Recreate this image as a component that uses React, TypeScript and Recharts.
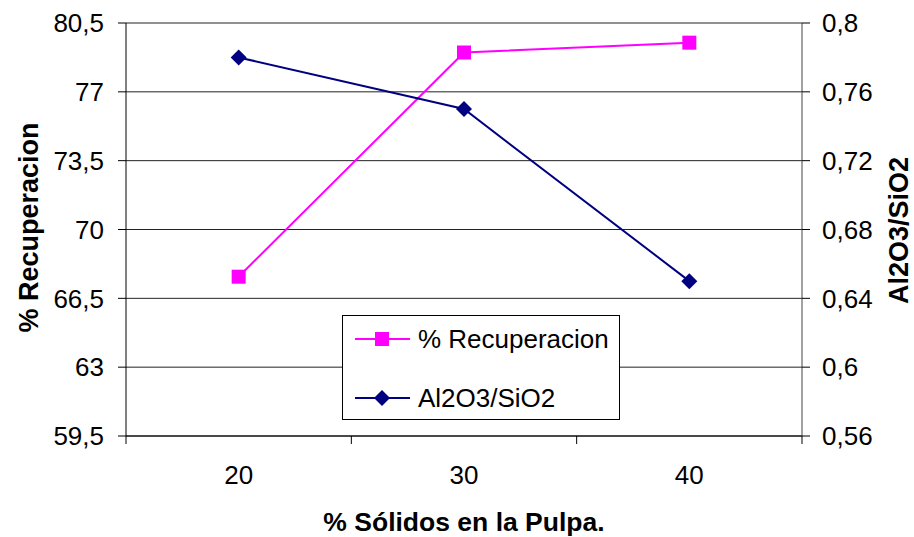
import React from 'react';
import { LineChart, Line, XAxis, YAxis, CartesianGrid, Legend } from 'recharts';

// % sólidos en la pulpa
const solids = [20, 30, 40];
const recuperacion = [67.6, 79.0, 79.5];
const alSiRatio = [0.78, 0.75, 0.65];

const leftTicks = [59.5, 63, 66.5, 70, 73.5, 77, 80.5];
const rightTicks = [0.56, 0.6, 0.64, 0.68, 0.72, 0.76, 0.8];
const solidsStep = 10;

const FONT = '"Liberation Sans", Arial, sans-serif';
const MAGENTA = '#FF00FF';
const NAVY = '#000080';

const seriesMeta = [
  { key: 'rec', name: '% Recuperacion', color: MAGENTA, shape: 'square' },
  { key: 'ratio', name: 'Al2O3/SiO2', color: NAVY, shape: 'diamond' },
];

const data = solids.map((s, i) => ({ x: s, rec: recuperacion[i], ratio: alSiRatio[i] }));

// category boundaries, where the axis tick marks sit
const boundaries = [...solids.map(s => s - solidsStep / 2), solids[solids.length - 1] + solidsStep / 2];
const xTicks = [...boundaries, ...solids].sort((a, b) => a - b);

const comma = (v: number) => String(v).replace('.', ',');

function Marker({ cx, cy, shape, color }: { cx: number; cy: number; shape: string; color: string }) {
  if (shape === 'square') {
    return <rect x={cx - 7} y={cy - 7} width={14} height={14} fill={color} />;
  }
  return <polygon points={`${cx},${cy - 8} ${cx + 8},${cy} ${cx},${cy + 8} ${cx - 8},${cy}`} fill={color} />;
}

function XTick(props: any) {
  const { x, y, payload } = props;
  if (solids.includes(payload.value)) {
    return (
      <text x={x} y={y + 40} textAnchor="middle" fontSize={26} fill="#000" fontFamily={FONT}>
        {payload.value}
      </text>
    );
  }
  return <line x1={x} x2={x} y1={y - 8} y2={y} stroke="#000" strokeWidth={1} />;
}

function LegendBox() {
  return (
    <div
      style={{
        width: 278,
        height: 105,
        boxSizing: 'border-box',
        border: '1px solid #000',
        background: '#fff',
        position: 'relative',
        fontFamily: FONT,
      }}
    >
      {seriesMeta.map((s, i) => (
        <div key={s.key} style={{ position: 'absolute', left: 0, top: i === 0 ? 6 : 65, height: 34, width: '100%' }}>
          <svg width={70} height={34} style={{ position: 'absolute', left: 10, top: 0 }}>
            <line x1={2} x2={57} y1={17} y2={17} stroke={s.color} strokeWidth={2} />
            <Marker cx={29} cy={17} shape={s.shape} color={s.color} />
          </svg>
          <span style={{ position: 'absolute', left: 75, top: 1, fontSize: 26, lineHeight: '32px', color: '#000', whiteSpace: 'nowrap' }}>
            {s.name}
          </span>
        </div>
      ))}
    </div>
  );
}

export default function App() {
  return (
    <div style={{ position: 'absolute', left: 0, top: 0, width: 914, height: 537, background: '#fff' }}>
      <LineChart width={914} height={537} data={data} margin={{ top: 23, right: 0, bottom: 0, left: 0 }} style={{ fontFamily: FONT }}>
        <CartesianGrid yAxisId="left" vertical={false} stroke="#222" strokeWidth={1} />
        <XAxis
          dataKey="x"
          type="number"
          domain={[boundaries[0], boundaries[boundaries.length - 1]]}
          ticks={xTicks}
          interval={0}
          height={101}
          tickLine={false}
          tickSize={8}
          tickMargin={0}
          axisLine={{ stroke: '#000' }}
          tick={<XTick />}
          label={{
            content: ({ viewBox }: any) => (
              <text
                x={viewBox.x + viewBox.width / 2}
                y={viewBox.y + 95}
                textAnchor="middle"
                fontSize={26.5}
                fontWeight="bold"
                fill="#000"
                fontFamily={FONT}
              >
                % Sólidos en la Pulpa.
              </text>
            ),
          }}
        />
        <YAxis
          yAxisId="left"
          width={126}
          domain={[leftTicks[0], leftTicks[leftTicks.length - 1]]}
          ticks={leftTicks}
          interval={0}
          tickSize={8}
          tickMargin={14}
          tickFormatter={comma}
          tick={{ fontSize: 26, fill: '#000', fontFamily: FONT }}
          axisLine={{ stroke: '#000' }}
          tickLine={{ stroke: '#000' }}
          label={{
            content: ({ viewBox }: any) => (
              <text
                x={38}
                y={viewBox.y + viewBox.height / 2 - 2}
                transform={`rotate(-90 38 ${viewBox.y + viewBox.height / 2 - 2})`}
                textAnchor="middle"
                fontSize={27}
                fontWeight="bold"
                fill="#000"
                fontFamily={FONT}
              >
                % Recuperacion
              </text>
            ),
          }}
        />
        <YAxis
          yAxisId="right"
          orientation="right"
          width={112}
          domain={[rightTicks[0], rightTicks[rightTicks.length - 1]]}
          ticks={rightTicks}
          interval={0}
          tickSize={8}
          tickMargin={12}
          tickFormatter={comma}
          tick={{ fontSize: 26, fill: '#000', fontFamily: FONT }}
          axisLine={{ stroke: '#444' }}
          tickLine={{ stroke: '#000' }}
          label={{
            content: ({ viewBox }: any) => (
              <text
                x={908}
                y={viewBox.y + viewBox.height / 2 + 1}
                transform={`rotate(-90 908 ${viewBox.y + viewBox.height / 2 + 1})`}
                textAnchor="middle"
                fontSize={27}
                fontWeight="bold"
                fill="#000"
                fontFamily={FONT}
              >
                Al2O3/SiO2
              </text>
            ),
          }}
        />
        <Legend
          layout="vertical"
          align="center"
          verticalAlign="middle"
          wrapperStyle={{ left: 342, top: 315, width: 278, height: 105 }}
          content={() => <LegendBox />}
        />
        {seriesMeta.map(s => (
          <Line
            key={s.key}
            yAxisId={s.key === 'rec' ? 'left' : 'right'}
            dataKey={s.key}
            name={s.name}
            type="linear"
            stroke={s.color}
            strokeWidth={2}
            isAnimationActive={false}
            dot={(p: any) => <Marker key={`${s.key}-${p.index}`} cx={p.cx} cy={p.cy} shape={s.shape} color={s.color} />}
            activeDot={false}
          />
        ))}
      </LineChart>
    </div>
  );
}
